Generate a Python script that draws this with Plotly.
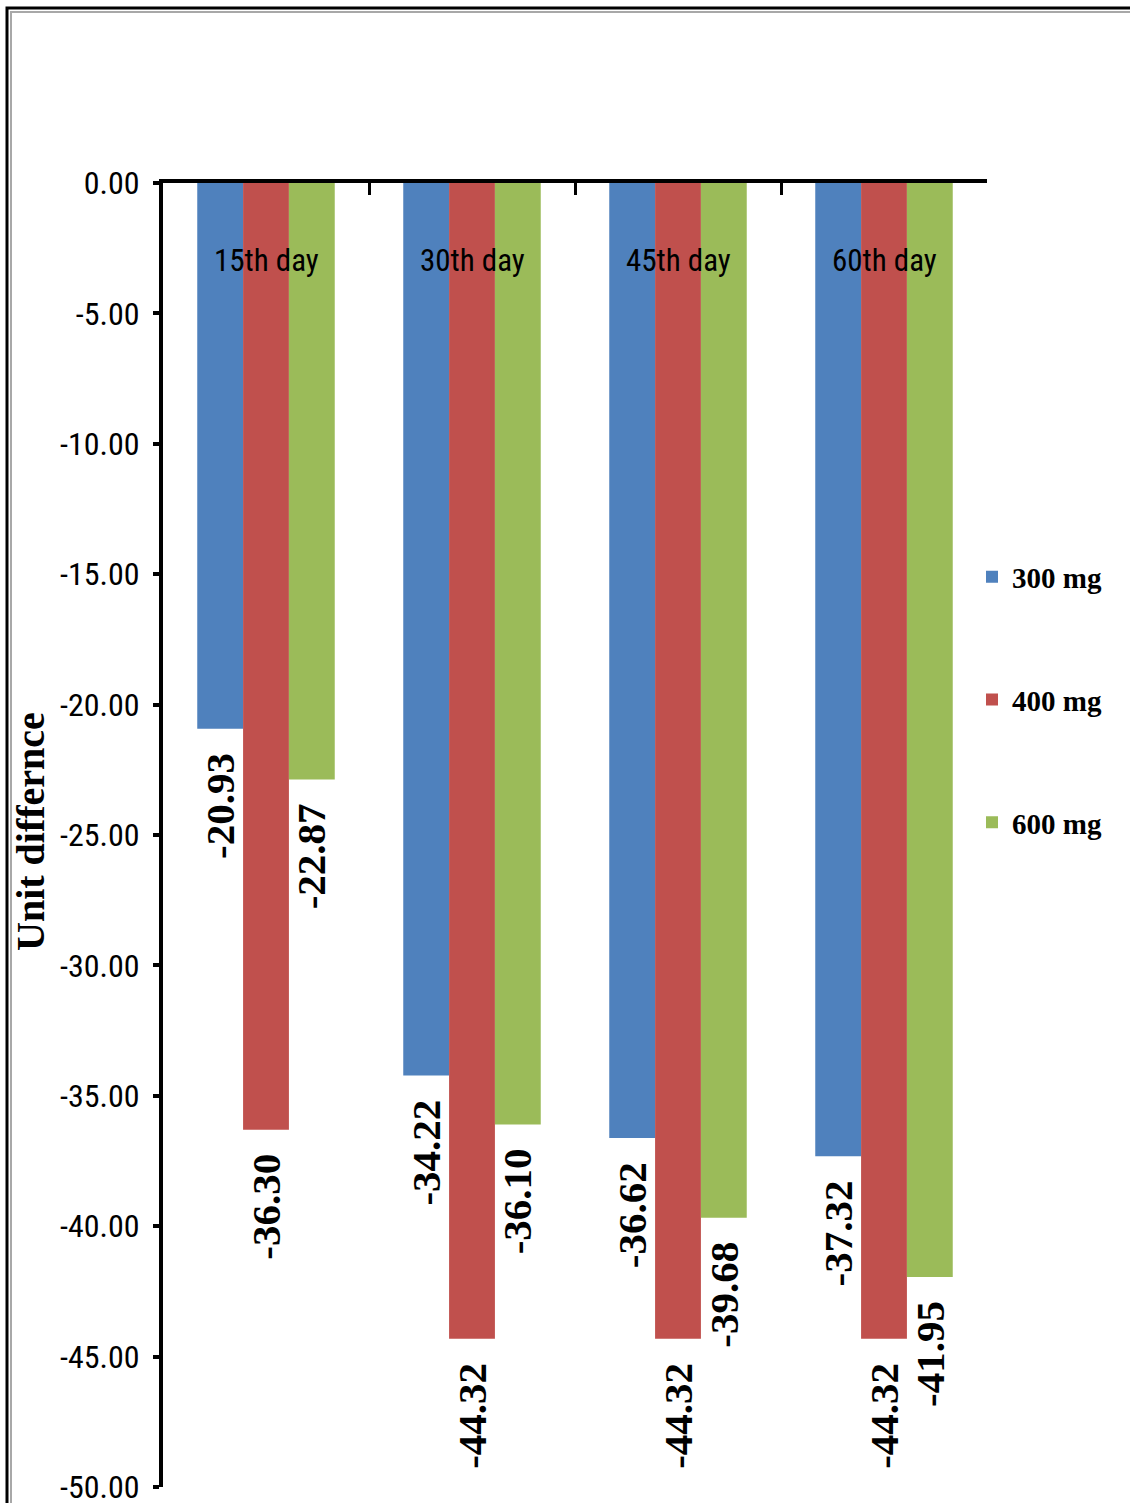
import plotly.graph_objects as go

# Data
categories = ["15th day", "30th day", "45th day", "60th day"]
series_names = ["300 mg", "400 mg", "600 mg"]
values_300 = [-20.93, -34.22, -36.62, -37.32]
values_400 = [-36.30, -44.32, -44.32, -44.32]
values_600 = [-22.87, -36.10, -39.68, -41.95]
y_ticks = [0, -5, -10, -15, -20, -25, -30, -35, -40, -45, -50]
y_title = "Unit differnce"

colors = ["#4F81BD", "#C0504D", "#9BBB59"]
series_values = [values_300, values_400, values_600]

W, H = 1130, 1503
ML, MR, MT, MB = 163, 143, 183, 16
PW, PH = W - ML - MR, H - MT - MB

bar_w = 0.2225
group_start = -1.5 * bar_w

NARROW = "Liberation Sans Narrow, Arial Narrow, Roboto Condensed, sans-serif"
SERIF = "Liberation Serif, Times New Roman, serif"


def px_x(p):
    return (p - ML) / PW


def px_y(p):
    return (H - MB - p) / PH


fig = go.Figure()
x_idx = list(range(len(categories)))
annotations = []
for k, (name, vals, col) in enumerate(zip(series_names, series_values, colors)):
    off = group_start + k * bar_w
    fig.add_trace(go.Bar(
        x=x_idx, y=vals, name=name, width=bar_w, offset=off,
        marker=dict(color=col, line=dict(width=0)),
        legendgroup=name,
    ))
    # value labels under each bar end, reading bottom-to-top
    for i, v in enumerate(vals):
        annotations.append(dict(
            x=i + off + bar_w / 2, y=v, xref="x", yref="y",
            text=f"{v:.2f}", showarrow=False, textangle=-90,
            xanchor="center", yanchor="top", yshift=-22,
            font=dict(family=SERIF, size=41, color="black", weight="bold"),
        ))

# category names drawn inside the plot, just under the top axis
for i, c in enumerate(categories):
    annotations.append(dict(
        x=i, y=px_y(260), xref="x", yref="paper",
        text=c, showarrow=False, xanchor="center", yanchor="middle",
        font=dict(family=NARROW, size=31, color="black"),
    ))

# vertical axis title
annotations.append(dict(
    x=px_x(30), y=px_y(832), xref="paper", yref="paper",
    text=y_title, showarrow=False, textangle=-90,
    xanchor="center", yanchor="middle",
    font=dict(family=SERIF, size=40, color="black", weight="bold"),
))

shapes = [
    dict(type="rect", xref="paper", yref="paper",
         x0=px_x(7), x1=px_x(W + 20), y0=px_y(H + 20), y1=px_y(8),
         line=dict(color="black", width=3), fillcolor="rgba(0,0,0,0)", layer="below"),
    dict(type="rect", xref="paper", yref="paper",
         x0=px_x(11), x1=px_x(W + 20), y0=px_y(H + 20), y1=px_y(12),
         line=dict(color="#A8A8A8", width=2), fillcolor="rgba(0,0,0,0)", layer="below"),
]

tick_text = [f"{v:.2f}" for v in y_ticks]

fig.update_layout(
    width=W, height=H,
    margin=dict(l=ML, r=MR, t=MT, b=MB, pad=0, autoexpand=False),
    paper_bgcolor="white", plot_bgcolor="white",
    barmode="group",
    showlegend=True,
    legend=dict(
        x=px_x(972), xanchor="left", y=px_y(700), yanchor="middle",
        font=dict(family=SERIF, size=29, color="black", weight="bold"),
        traceorder="grouped", tracegroupgap=82,
        bgcolor="rgba(0,0,0,0)", itemwidth=30,
    ),
    annotations=annotations,
    shapes=shapes,
    xaxis=dict(
        range=[-0.5, len(categories) - 0.5], side="top",
        showline=True, linecolor="black", linewidth=4,
        ticks="inside", tickvals=[i + 0.5 for i in x_idx], ticklen=12, tickwidth=3,
        tickcolor="black", showticklabels=False, showgrid=False, zeroline=False,
        automargin=False,
    ),
    yaxis=dict(
        range=[-50, 0], tickvals=y_ticks, ticktext=tick_text,
        showline=True, linecolor="black", linewidth=4,
        ticks="outside", ticklen=6, tickwidth=4, tickcolor="black",
        ticklabelstandoff=7, ticklabeloverflow="allow",
        tickfont=dict(family=NARROW, size=32, color="black"),
        showgrid=False, zeroline=False, automargin=False,
    ),
)

fig.write_html("out.html")
